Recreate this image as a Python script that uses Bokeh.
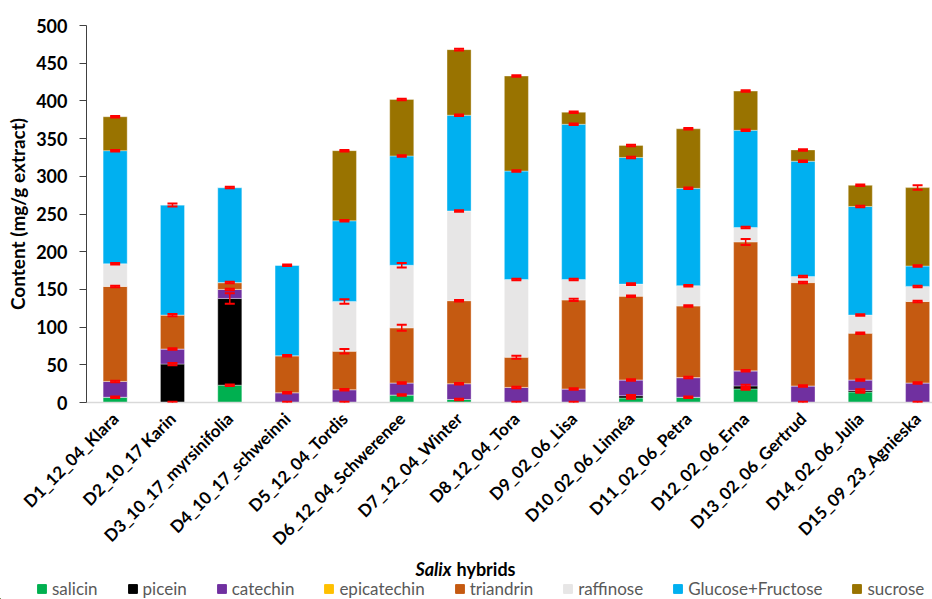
import math
from bokeh.plotting import figure
from bokeh.layouts import column
from bokeh.models import (ColumnDataSource, Range1d, FixedTicker, Legend, LegendItem,
                          Whisker, TeeHead)
from bokeh.core.properties import value
from bokeh.embed import file_html
from bokeh.resources import INLINE

hybrids = ["D1_12_04_Klara", "D2_10_17 Karin", "D3_10_17_myrsinifolia", "D4_10_17_schweinni",
           "D5_12_04_Tordis", "D6_12_04_Schwerenee", "D7_12_04_Winter", "D8_12_04_Tora",
           "D9_02_06_Lisa", "D10_02_06_Linnéa", "D11_02_06_Petra", "D12_02_06_Erna",
           "D13_02_06_Gertrud", "D14_02_06_Julia", "D15_09_23_Agnieska"]

components = ["salicin", "picein", "catechin", "epicatechin", "triandrin", "raffinose",
              "Glucose+Fructose", "sucrose"]

salicin     = [7, 0, 23, 0, 0, 10, 4, 0, 0, 6, 7, 18, 0, 14, 0]
picein      = [0, 51, 115, 0, 0, 0, 0, 0, 0, 3, 0, 4, 0, 2, 0]
catechin    = [21, 20, 12, 13, 17, 16, 21, 20, 18, 21, 26, 20, 22, 14, 26]
epicatechin = [0, 0, 0, 0, 0, 0, 0, 0, 0, 0, 0, 0, 0, 0, 0]
triandrin   = [126, 45, 9, 49, 51, 73, 110, 40, 118, 111, 95, 171, 137, 62, 108]
raffinose   = [30, 0, 0, 0, 66, 83, 119, 103, 27, 16, 27, 19, 8, 24, 20]
glucose_fructose = [150, 146, 126, 120, 107, 145, 127, 144, 206, 168, 129, 129, 153, 144, 27]
sucrose     = [45, 0, 0, 0, 93, 75, 87, 126, 16, 16, 79, 52, 15, 28, 104]

err_salicin     = [1, 1, 1, 1, 1, 1, 1, 1, 1, 1, 1, 1, 1, 1, 1]
err_picein      = [0, 1.5, 7, 0, 0, 0, 0, 0, 0, 1, 0, 1.5, 0, 1.5, 0]
err_catechin    = [1, 1, 1, 1, 1, 1, 1, 1, 1, 1, 1, 1, 1, 1, 1]
err_epicatechin = [0, 0, 0, 0, 0, 0, 0, 0, 0, 0, 0, 0, 0, 0, 0]
err_triandrin   = [1, 1.5, 1, 1, 3, 4, 1, 2, 1.5, 1, 1, 4, 1, 1, 1]
err_raffinose   = [1, 0, 0, 0, 3, 3, 1, 1, 1, 1, 1, 1, 1, 1, 1]
err_glucose_fructose = [1, 2, 1, 1, 1, 1, 1, 1, 1, 1, 1, 1, 1, 1, 1]
err_sucrose     = [1, 0, 0, 0, 1, 1, 1, 1, 1, 1, 1, 1, 1, 1, 3]

colors = ["#00B050", "#000000", "#7030A0", "#FFC000", "#C55A11", "#E7E6E6", "#00B0F0", "#997300"]

series = [salicin, picein, catechin, epicatechin, triandrin, raffinose, glucose_fructose, sucrose]
errors = [err_salicin, err_picein, err_catechin, err_epicatechin, err_triandrin, err_raffinose,
          err_glucose_fructose, err_sucrose]

FONT = "Lato"
xpos = [i + 0.5 for i in range(len(hybrids))]

data = {"x": xpos}
for name, vals in zip(components, series):
    data[name] = vals
source = ColumnDataSource(data)

W = 932
H1 = 559
p = figure(width=W, height=H1, output_backend="svg", toolbar_location=None,
           x_range=Range1d(0, 14.76), y_range=Range1d(0, 500),
           min_border_left=86, min_border_right=0, min_border_top=25, min_border_bottom=156)
p.frame_align = False
p.outline_line_color = None
p.xgrid.grid_line_color = None
p.ygrid.grid_line_color = None

renderers = p.vbar_stack(components, x="x", width=0.42, source=source, color=colors,
                         line_color="white", line_alpha=0.6, line_width=0.6)

# error bars at the top of each segment
cum = [0.0] * len(hybrids)
wx, wu, wl = [], [], []
for vals, errs in zip(series, errors):
    cum = [c + v for c, v in zip(cum, vals)]
    for i, (c, e) in enumerate(zip(cum, errs)):
        if e > 0:
            wx.append(xpos[i])
            wu.append(c + e)
            wl.append(c - e)
wsrc = ColumnDataSource({"x": wx, "upper": wu, "lower": wl})
whisk = Whisker(base="x", upper="upper", lower="lower", source=wsrc, level="overlay",
                line_color="#FF0000", line_width=1.5,
                upper_head=TeeHead(size=10, line_color="#FF0000", line_width=2),
                lower_head=TeeHead(size=10, line_color="#FF0000", line_width=2))
p.add_layout(whisk)

# y axis
p.yaxis.ticker = FixedTicker(ticks=list(range(0, 501, 50)))
p.yaxis.axis_label = "Content (mg/g extract)"
p.yaxis.axis_label_text_font = FONT
p.yaxis.axis_label_text_font_style = "bold"
p.yaxis.axis_label_text_font_size = "19px"
p.yaxis.axis_label_text_color = "black"
p.yaxis.major_label_text_font = FONT
p.yaxis.major_label_text_font_style = "bold"
p.yaxis.major_label_text_font_size = "18px"
p.yaxis.major_label_text_color = "black"
p.yaxis.axis_line_color = "#404040"
p.yaxis.major_tick_line_color = "#404040"
p.yaxis.major_tick_in = 0
p.yaxis.major_tick_out = 7
p.yaxis.minor_tick_line_color = None
p.yaxis.axis_label_standoff = 4
p.yaxis.major_label_standoff = 12

# x axis
p.xaxis.ticker = FixedTicker(ticks=xpos)
p.xaxis.major_label_overrides = {x: h for x, h in zip(xpos, hybrids)}
p.xaxis.major_label_orientation = math.pi / 4
p.xaxis.major_label_text_font = FONT
p.xaxis.major_label_text_font_style = "bold"
p.xaxis.major_label_text_font_size = "17px"
p.xaxis.major_label_text_color = "black"
p.xaxis.major_tick_line_color = None
p.xaxis.major_tick_in = 0
p.xaxis.major_tick_out = 0
p.xaxis.minor_tick_line_color = None
p.xaxis.axis_line_color = "#D9D9D9"
p.xaxis.axis_line_width = 1.5
p.xaxis.major_label_standoff = 13

# bottom strip: axis title and legend
H2 = 599 - H1
p2 = figure(width=W, height=H2, output_backend="svg", toolbar_location=None,
            x_range=Range1d(0, W), y_range=Range1d(0, H2), min_border=0,
            x_axis_location=None, y_axis_location=None)
p2.frame_align = False
p2.outline_line_color = None
p2.xgrid.grid_line_color = None
p2.ygrid.grid_line_color = None

title_parts = ["Salix", "hybrids"]
title_styles = ["bold italic", "bold"]
title_align = ["right", "left"]
title_x = [451, 456]
for t, s, a, tx in zip(title_parts, title_styles, title_align, title_x):
    p2.text(x=[tx], y=[H2 - 9], text=[t], text_font=value(FONT), text_font_style=s,
            text_font_size="18px", text_align=a, text_baseline="middle", text_color="black")

dummy = [p2.vbar(x=[-1000], top=[1], width=1, fill_color=c, line_color=c) for c in colors]
items = [LegendItem(label=n, renderers=[r]) for n, r in zip(components, dummy)]
legend = Legend(items=items, orientation="horizontal", location=(36, 0),
                label_text_font=FONT, label_text_font_size="17px", label_text_color="#595959",
                glyph_width=11, glyph_height=11, spacing=29, label_standoff=5,
                padding=0, margin=0, background_fill_alpha=0, border_line_color=None)
p2.add_layout(legend)

layout = column(p, p2, spacing=0)
open("out.html", "w").write(file_html(layout, INLINE))
